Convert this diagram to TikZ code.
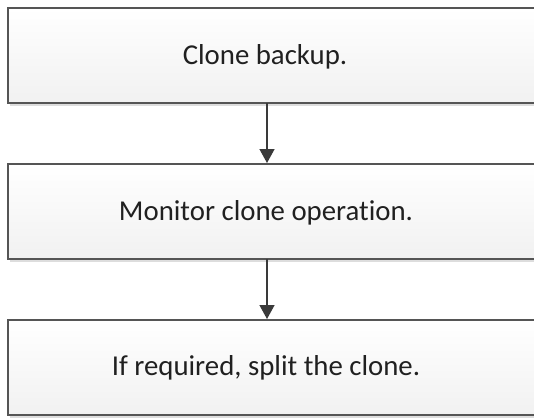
\documentclass[tikz,border=0pt]{standalone}
\usepackage{fontspec}
\setmainfont[Ligatures=NoCommon]{Carlito}
\usetikzlibrary{arrows.meta,shadows}
\definecolor{boxline}{HTML}{555555}
\definecolor{arrowc}{HTML}{3A3A3A}
\definecolor{txt}{HTML}{202020}
\tikzset{
  stepbox/.style={draw=boxline, line width=2pt, top color=white, bottom color=gray!11,
    minimum width=540pt, minimum height=95pt, anchor=north west, inner sep=0pt,
    drop shadow={shadow xshift=1.5pt, shadow yshift=-2.5pt, fill=gray!45, opacity=0.6}},
  steptext/.style={text=txt, font=\fontsize{28.8}{34}\selectfont},
  flow/.style={draw=arrowc, line width=1.4pt, -{Triangle[width=15pt,length=14pt]}}
}
\begin{document}
\begin{tikzpicture}[x=1pt,y=1pt]
\useasboundingbox (0,0) rectangle (534,-417);
\begin{scope}
\clip (0,0) rectangle (534,-417);
\node[stepbox] (b1) at (7,-7) {};
\node[stepbox] (b2) at (7,-163) {};
\node[stepbox] (b3) at (7,-319) {};
\node[steptext] (t1) at (265,-57) {Clone backup.};
\node[steptext] (t2) at (266,-213) {Monitor clone operation.};
\node[steptext] (t3) at (266,-368) {If required, split the clone.};
\coordinate (a1) at (267,-103);
\coordinate (a2) at (267,-163);
\coordinate (a3) at (267,-259);
\coordinate (a4) at (267,-319);
\draw[flow] (a1) -- (a2);
\draw[flow] (a3) -- (a4);
\end{scope}
\end{tikzpicture}
\end{document}
